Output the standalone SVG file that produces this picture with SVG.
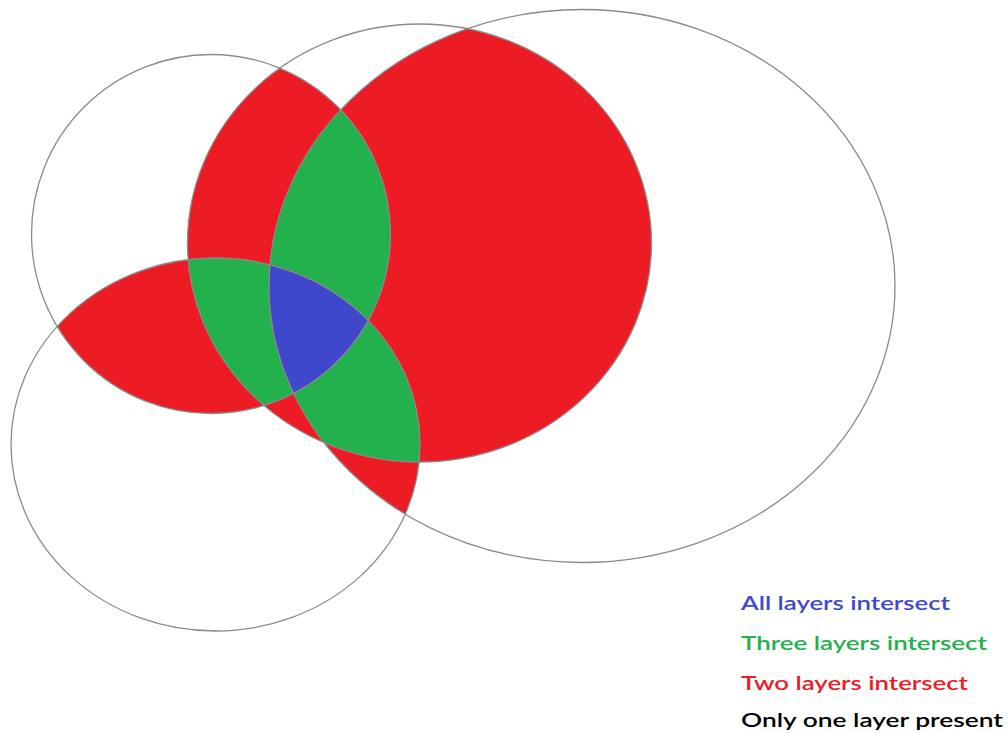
<svg xmlns="http://www.w3.org/2000/svg" xmlns:xlink="http://www.w3.org/1999/xlink" width="1008" height="733" viewBox="0 0 1008 733">
<style>
.red{fill:#ED1C24}
.green{fill:#22B14C}
.blue{fill:#3F48CC}
.outline{fill:none;stroke:#8a8a8a;stroke-width:1.3}
.lg{font-family:"Lato","Open Sans","Liberation Sans",sans-serif;font-size:20px;font-weight:600}
</style>
<defs>
<ellipse id="A" cx="211" cy="234" rx="179.5" ry="179.5"/>
<ellipse id="B" cx="215.5" cy="444.5" rx="204.5" ry="186.5"/>
<ellipse id="C" cx="419.5" cy="243" rx="232" ry="219"/>
<ellipse id="D" cx="582" cy="286" rx="313" ry="276.5"/>
<clipPath id="cA"><use href="#A"/></clipPath>
<clipPath id="cB"><use href="#B"/></clipPath>
<clipPath id="cC"><use href="#C"/></clipPath>
<clipPath id="cD"><use href="#D"/></clipPath>
</defs>
<rect width="1008" height="733" fill="#ffffff"/>
<g id="two-layers">
<g clip-path="url(#cA)"><use href="#B" class="red"/></g>
<g clip-path="url(#cA)"><use href="#C" class="red"/></g>
<g clip-path="url(#cA)"><use href="#D" class="red"/></g>
<g clip-path="url(#cB)"><use href="#C" class="red"/></g>
<g clip-path="url(#cB)"><use href="#D" class="red"/></g>
<g clip-path="url(#cC)"><use href="#D" class="red"/></g>
</g>
<g id="three-layers">
<g clip-path="url(#cA)"><g clip-path="url(#cB)"><use href="#C" class="green"/></g></g>
<g clip-path="url(#cA)"><g clip-path="url(#cB)"><use href="#D" class="green"/></g></g>
<g clip-path="url(#cA)"><g clip-path="url(#cC)"><use href="#D" class="green"/></g></g>
<g clip-path="url(#cB)"><g clip-path="url(#cC)"><use href="#D" class="green"/></g></g>
</g>
<g id="all-layers">
<g clip-path="url(#cA)"><g clip-path="url(#cB)"><g clip-path="url(#cC)"><use href="#D" class="blue"/></g></g></g>
</g>
<g id="outlines">
<use id="layer-A" href="#A" class="outline"/>
<use id="layer-B" href="#B" class="outline"/>
<use id="layer-C" href="#C" class="outline"/>
<use id="layer-D" href="#D" class="outline"/>
</g>
<g id="legend" class="lg">
<text x="741" y="610" fill="#3F48CC" textLength="209" lengthAdjust="spacingAndGlyphs">All layers intersect</text>
<text x="741" y="650" fill="#22B14C" textLength="246" lengthAdjust="spacingAndGlyphs">Three layers intersect</text>
<text x="741" y="690" fill="#ED1C24" textLength="227" lengthAdjust="spacingAndGlyphs">Two layers intersect</text>
<text x="741" y="727" fill="#000000" textLength="262" lengthAdjust="spacingAndGlyphs">Only one layer present</text>
</g>
</svg>
